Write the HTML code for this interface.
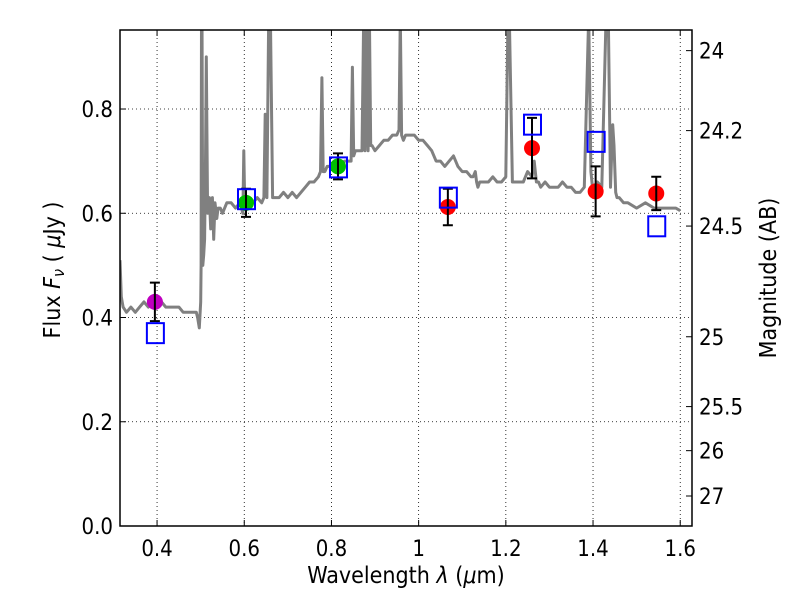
<!DOCTYPE html>
<html><head><meta charset="utf-8"><style>
body{margin:0;background:#fff}
svg text{font-family:"DejaVu Sans Condensed","DejaVu Sans","Liberation Sans",sans-serif;fill:#000}
</style></head><body>
<svg id="chart" width="800" height="600" viewBox="0 0 800 600" xmlns="http://www.w3.org/2000/svg">
<rect x="0" y="0" width="800" height="600" fill="#fff"/>
<g id="grid"></g>
<g id="spec"></g>
<g id="marks"></g>
<rect x="120" y="30" width="572" height="496" fill="none" stroke="#000" stroke-width="1.5"/>
<g id="axes"></g>
<text x="406" y="583" font-size="23" text-anchor="middle">Wavelength  <tspan font-style="italic">λ</tspan> (<tspan font-style="italic">μ</tspan>m)</text>
<text transform="translate(60,270) rotate(-90)" font-size="23" text-anchor="middle">Flux  <tspan font-style="italic">F<tspan font-size="16" dy="4">ν</tspan></tspan><tspan dy="-4">  ( </tspan><tspan font-style="italic">μ</tspan>Jy )</text>
<text transform="translate(776,278) rotate(-90)" font-size="23" text-anchor="middle">Magnitude (AB)</text>
</svg>
<script>
const xTicks=[0.4,0.6,0.8,1.0,1.2,1.4,1.6];
const xTickLabels=["0.4","0.6","0.8","1","1.2","1.4","1.6"];
const yTicks=[0,0.2,0.4,0.6,0.8];
const yTickLabels=["0.0","0.2","0.4","0.6","0.8"];
const magTicks=[24,24.2,24.5,25,25.5,26,27];
const magTickLabels=["24","24.2","24.5","25","25.5","26","27"];
const specWave=[0.315,0.318,0.322,0.33,0.34,0.35,0.36,0.37,0.38,0.39,0.40,0.41,0.42,0.43,0.44,0.45,0.46,0.47,0.48,0.49,0.493,0.497,0.5,0.501,0.502,0.503,0.505,0.507,0.509,0.511,0.513,0.516,0.52,0.523,0.527,0.53,0.533,0.537,0.54,0.545,0.55,0.56,0.57,0.58,0.59,0.597,0.599,0.601,0.605,0.61,0.62,0.63,0.64,0.645,0.648,0.652,0.656,0.66,0.665,0.667,0.669,0.673,0.68,0.69,0.7,0.71,0.72,0.73,0.74,0.75,0.76,0.77,0.775,0.778,0.781,0.785,0.79,0.8,0.81,0.82,0.83,0.84,0.845,0.848,0.851,0.855,0.86,0.87,0.874,0.877,0.88,0.884,0.887,0.89,0.893,0.9,0.91,0.92,0.93,0.94,0.95,0.955,0.958,0.961,0.965,0.97,0.98,0.99,1.0,1.01,1.02,1.03,1.04,1.05,1.06,1.07,1.08,1.09,1.1,1.11,1.12,1.125,1.13,1.133,1.136,1.14,1.15,1.16,1.17,1.18,1.19,1.2,1.205,1.208,1.215,1.22,1.23,1.24,1.25,1.26,1.265,1.27,1.275,1.28,1.29,1.3,1.31,1.32,1.33,1.34,1.35,1.36,1.37,1.38,1.39,1.395,1.4,1.403,1.41,1.42,1.43,1.435,1.44,1.445,1.448,1.452,1.455,1.46,1.47,1.48,1.5,1.52,1.54,1.56,1.58,1.59,1.6,1.61,1.62,1.627];
const specFlux=[0.51,0.44,0.42,0.41,0.42,0.41,0.42,0.43,0.42,0.43,0.43,0.43,0.42,0.42,0.42,0.42,0.41,0.41,0.41,0.41,0.40,0.38,0.43,0.50,0.98,0.98,0.50,0.52,0.55,0.70,0.90,0.60,0.63,0.57,0.63,0.55,0.62,0.59,0.61,0.61,0.60,0.62,0.62,0.61,0.62,0.60,0.72,0.62,0.62,0.63,0.62,0.63,0.62,0.63,0.79,0.63,0.98,0.98,0.63,0.63,0.63,0.63,0.63,0.64,0.63,0.64,0.63,0.64,0.65,0.66,0.66,0.67,0.68,0.86,0.68,0.68,0.69,0.69,0.70,0.69,0.70,0.70,0.70,0.88,0.71,0.72,0.72,0.72,0.98,0.72,0.98,0.72,0.98,0.73,0.73,0.72,0.73,0.74,0.74,0.75,0.75,0.76,0.98,0.75,0.74,0.75,0.75,0.75,0.74,0.74,0.73,0.72,0.70,0.70,0.69,0.70,0.71,0.69,0.68,0.68,0.67,0.67,0.68,0.66,0.65,0.66,0.66,0.66,0.67,0.66,0.66,0.67,0.98,0.98,0.66,0.66,0.66,0.66,0.68,0.67,0.70,0.66,0.66,0.65,0.66,0.65,0.65,0.65,0.66,0.65,0.65,0.64,0.64,0.65,0.98,0.68,0.64,0.65,0.66,0.65,0.98,0.98,0.65,0.77,0.73,0.64,0.63,0.63,0.62,0.62,0.61,0.62,0.61,0.61,0.61,0.61,0.605];
const bandWave=[0.395,0.604,0.815,1.067,1.26,1.406,1.545];
const obsFlux=[0.430,0.620,0.690,0.612,0.725,0.642,0.638];
const obsErr=[0.037,0.027,0.025,0.035,0.058,0.048,0.032];
const obsColor=["#bf00bf","#00bf00","#00bf00","#ff0000","#ff0000","#ff0000","#ff0000"];
const modelFlux=[0.370,0.627,0.688,0.630,0.770,0.737,0.575];

const X0=120,X1=692,Y0=526,Y1=30;
const xmin=0.315,xmax=1.627,ymin=0,ymax=0.9516;
const sx=v=>X0+(v-xmin)/(xmax-xmin)*(X1-X0);
const sy=v=>Y0-(v-ymin)/(ymax-ymin)*(Y0-Y1);
const magToFlux=m=>Math.pow(10,(23.9-m)/2.5);
const NS="http://www.w3.org/2000/svg";
function mk(parent,tag,attrs){const e=document.createElementNS(NS,tag);for(const k in attrs)e.setAttribute(k,attrs[k]);parent.appendChild(e);return e;}
const grid=document.getElementById('grid'),axes=document.getElementById('axes'),spec=document.getElementById('spec'),marks=document.getElementById('marks');

xTicks.forEach((t,i)=>{const x=sx(t);
 const g=mk(grid,'line',{x1:x,x2:x,y1:Y1,y2:Y0,stroke:'#000','stroke-width':0.8,'stroke-dasharray':'1,3'});
 
 const a=mk(axes,'line',{x1:x,x2:x,y1:Y0,y2:Y0-6,stroke:'#000'});
 const b=mk(axes,'line',{x1:x,x2:x,y1:Y1,y2:Y1+6,stroke:'#000'});
 const l=mk(axes,'text',{x:x,y:Y0+30,'font-size':22,'text-anchor':'middle'});l.textContent=xTickLabels[i];
 });
yTicks.forEach((t,i)=>{const y=sy(t);
 if(t>0){const g=mk(grid,'line',{x1:X0,x2:X1,y1:y,y2:y,stroke:'#000','stroke-width':0.8,'stroke-dasharray':'1,3'});
 }
 const a=mk(axes,'line',{x1:X0,x2:X0+6,y1:y,y2:y,stroke:'#000'});
 const l=mk(axes,'text',{x:X0-7,y:y+8,'font-size':22,'text-anchor':'end'});l.textContent=yTickLabels[i];
 });
magTicks.forEach((m,i)=>{const y=sy(magToFlux(m));
 const a=mk(axes,'line',{x1:X1,x2:X1-6,y1:y,y2:y,stroke:'#000'});
 const l=mk(axes,'text',{x:X1+7,y:y+8,'font-size':22});l.textContent=magTickLabels[i];
 });

const cp=mk(spec,'clipPath',{id:'clip'});mk(cp,'rect',{x:X0,y:Y1,width:X1-X0,height:Y0-Y1});
const pts=specWave.map((w,i)=>sx(w).toFixed(1)+','+sy(specFlux[i]).toFixed(1)).join(' ');
const pl=mk(spec,'polyline',{points:pts,fill:'none',stroke:'#808080','stroke-width':3,'stroke-linejoin':'round','clip-path':'url(#clip)'});


bandWave.forEach((w,i)=>{const x=sx(w),y=sy(obsFlux[i]);
 const c=mk(marks,'circle',{cx:x,cy:y,r:8,fill:obsColor[i]});
 const y1=sy(obsFlux[i]-obsErr[i]),y2=sy(obsFlux[i]+obsErr[i]);
 const e=mk(marks,'path',{d:`M${x},${y1}V${y2}M${x-5},${y1}H${x+5}M${x-5},${y2}H${x+5}`,stroke:'#000','stroke-width':2,fill:'none'});
 
 const s=mk(marks,'rect',{x:x-8,y:sy(modelFlux[i])-10,width:17,height:20,fill:'none',stroke:'#0000ff','stroke-width':2});
 });
</script>
</body></html>
